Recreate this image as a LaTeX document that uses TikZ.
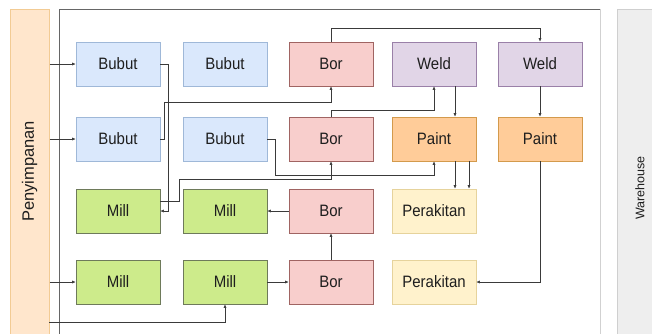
\documentclass[tikz,border=0pt]{standalone}
\usepackage{fontspec}
\setmainfont{Liberation Sans}
\usetikzlibrary{arrows.meta}

\definecolor{bubutfill}{HTML}{DAE8FC}\definecolor{bubutdraw}{HTML}{9FB8D8}
\definecolor{borfill}{HTML}{F8CECC}\definecolor{bordraw}{HTML}{A06462}
\definecolor{weldfill}{HTML}{E1D5E7}\definecolor{welddraw}{HTML}{9A80A8}
\definecolor{paintfill}{HTML}{FFCC99}\definecolor{paintdraw}{HTML}{D39A4C}
\definecolor{rakitfill}{HTML}{FFF2CC}\definecolor{rakitdraw}{HTML}{E6D39C}
\definecolor{millfill}{HTML}{CDEB8B}\definecolor{milldraw}{HTML}{6E7A5A}
\definecolor{penfill}{HTML}{FFE6CC}\definecolor{pendraw}{HTML}{F2CB94}
\definecolor{whfill}{HTML}{EEEEEE}\definecolor{whdraw}{HTML}{CFCFCF}
\definecolor{wire}{HTML}{3A3A3A}
\definecolor{txt}{HTML}{1E1E1E}

% labels are set slightly taller than wide
\newcommand{\tall}[1]{\scalebox{1}[1.1]{#1}}

\tikzset{
  machine/.style={draw, line width=0.6pt, minimum width=84pt, minimum height=44pt,
    inner sep=0pt, text=txt, font=\fontsize{15}{18}\selectfont},
  bubut/.style={machine, fill=bubutfill, draw=bubutdraw},
  bor/.style={machine, fill=borfill, draw=bordraw},
  weld/.style={machine, fill=weldfill, draw=welddraw},
  paint/.style={machine, fill=paintfill, draw=paintdraw},
  rakit/.style={machine, fill=rakitfill, draw=rakitdraw},
  mill/.style={machine, fill=millfill, draw=milldraw},
  arr/.style={draw=wire, line width=0.55pt, -{Latex[length=3.5pt,width=3pt]}},
}

\begin{document}
\begin{tikzpicture}[x=1pt,y=-1pt]
\useasboundingbox (0,0) rectangle (652,333);

% storage and warehouse lanes
\node[fill=penfill, draw=pendraw, line width=0.6pt, minimum width=39pt, minimum height=340pt,
      anchor=north west, inner sep=0pt] (pen) at (10,9) {};
\node[rotate=90, text=txt, font=\fontsize{16.5}{19}\selectfont] (pentext) at (29.5,171.5) {Penyimpanan};
\node[fill=whfill, draw=whdraw, line width=0.6pt, minimum width=50pt, minimum height=340pt,
      anchor=north west, inner sep=0pt] (wh) at (617,9) {};
\node[rotate=90, text=txt, font=\fontsize{12.5}{15}\selectfont] (whtext) at (640,188) {Warehouse};

% production area frame
\draw[draw=black!60, line width=0.6pt] (59,345) -- (59,9) -- (600,9);
\draw[draw=black!18, line width=0.6pt] (600,9) -- (600,345);

% machines
\node[bubut] (b11) at (118,64) {\tall{Bubut}};
\node[bubut] (b12) at (225,64) {\tall{Bubut}};
\node[bor]   (o13) at (331,64) {\tall{Bor}};
\node[weld]  (w14) at (434,64) {\tall{Weld}};
\node[weld]  (w15) at (540,64) {\tall{Weld}};

\node[bubut] (b21) at (118,139) {\tall{Bubut}};
\node[bubut] (b22) at (225,139) {\tall{Bubut}};
\node[bor]   (o23) at (331,139) {\tall{Bor}};
\node[paint] (p24) at (434,139) {\tall{Paint}};
\node[paint] (p25) at (540,139) {\tall{Paint}};

\node[mill]  (m31) at (118,211) {\tall{Mill}};
\node[mill]  (m32) at (225,211) {\tall{Mill}};
\node[bor]   (o33) at (331,211) {\tall{Bor}};
\node[rakit] (k34) at (434,211) {\tall{Perakitan}};

\node[mill]  (m41) at (118,282) {\tall{Mill}};
\node[mill]  (m42) at (225,282) {\tall{Mill}};
\node[bor]   (o43) at (331,282) {\tall{Bor}};
\node[rakit] (k44) at (434,282) {\tall{Perakitan}};

\coordinate (low) at (49,322);

% material flow from storage
\draw[arr] (b11.west -| pen.east) -- (b11.west);
\draw[arr] (b21.west -| pen.east) -- (b21.west);
\draw[arr] (m41.west -| pen.east) -- (m41.west);
\draw[arr] (low) -| (m42.south);

% routing between machines
\draw[arr] (b11.east) -- ([xshift=8pt]b11.east) |- (m31.east);
\draw[arr] (b21.east) -- ([xshift=4pt]b21.east) |- ([yshift=-16pt]o13.south) -- (o13.south);
\draw[arr] (o13.north) -- ([yshift=13pt]o13.north) -| (w15.north);
\draw[arr] (o23.north) -- ([yshift=6pt]o23.north) -| (w14.south);
\draw[arr] ([xshift=21pt]w14.south) -- ([xshift=21pt]p24.north);
\draw[arr] (w15.south) -- (p25.north);
\draw[arr] ([xshift=21pt]p24.south) -- ([xshift=21pt]k34.north);
\draw[arr] ([xshift=35pt]p24.south) -- ([xshift=35pt]k34.north);
\draw[arr] (p25.south) |- (k44.east);
\draw[arr] (b22.east) -- ([xshift=8pt]b22.east) |- ([yshift=-14pt]p24.south) -- (p24.south);
\draw[arr] ([yshift=10pt]m31.east) -- ([xshift=19pt,yshift=10pt]m31.east)
           |- ([yshift=-18pt]o23.south) -- (o23.south);
\draw[arr] (o33.west) -- (m32.east);
\draw[arr] (o43.north) -- (o33.south);
\draw[arr] (m42.east) -- (o43.west);
\end{tikzpicture}
\end{document}
